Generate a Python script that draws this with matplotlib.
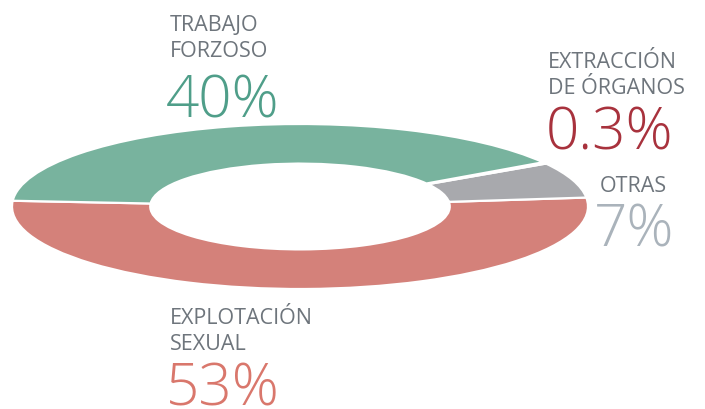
import numpy as np
import matplotlib.pyplot as plt

# shares of victims by type of exploitation (order counter-clockwise from the left)
categories = ['EXPLOTACIÓN\nSEXUAL', 'OTRAS', 'EXTRACCIÓN\nDE ÓRGANOS', 'TRABAJO\nFORZOSO']
values = [53, 7, 0.3, 40]
value_labels = ['53%', '7%', '0.3%', '40%']
colors = ['#d4817a', '#a8a9ad', '#a8323d', '#78b39e']
number_colors = ['#d9776c', '#aab3bb', '#a8323d', '#4f9e89']
label_color = '#6e757c'

W, H = 705, 410
fig = plt.figure(figsize=(W / 100, H / 100), dpi=100)

# flattened donut: axes box = bounding box of the outer ellipse (pixels)
x0, x1, y0, y1 = 12, 588, 125, 290
ax = fig.add_axes([x0 / W, 1 - y1 / H, (x1 - x0) / W, (y1 - y0) / H])
ax.pie(values, colors=colors, startangle=176, counterclock=True,
       radius=1, wedgeprops=dict(width=0.48, edgecolor='white', linewidth=1.6))
ax.set_aspect('auto')
ax.set_xlim(-1.0, 1.0)
ax.set_ylim(-1.0, 1.0)
ax.axis('off')

font = ['Open Sans', 'DejaVu Sans']


def px(x, y):
    return x / W, 1 - y / H


# (x label, x number, baseline of first label line, baseline of number) in pixels
spots = [(170, 166, 324, 406), (600, 594, 192, 247),
         (548, 546, 68, 150), (170, 166, 31, 117)]
for (xl, xn, yl, yn), cat, lab, nc in zip(spots, categories, value_labels, number_colors):
    for i, line in enumerate(cat.split('\n')):
        fig.text(*px(xl, yl + i * 26), line, fontsize=15.5, color=label_color,
                 family=font, va='baseline', ha='left')
    fig.text(*px(xn, yn), lab, fontsize=42, color=nc, family=font,
             weight='light', va='baseline', ha='left')

fig.savefig('out.png', dpi=100, facecolor='white')
